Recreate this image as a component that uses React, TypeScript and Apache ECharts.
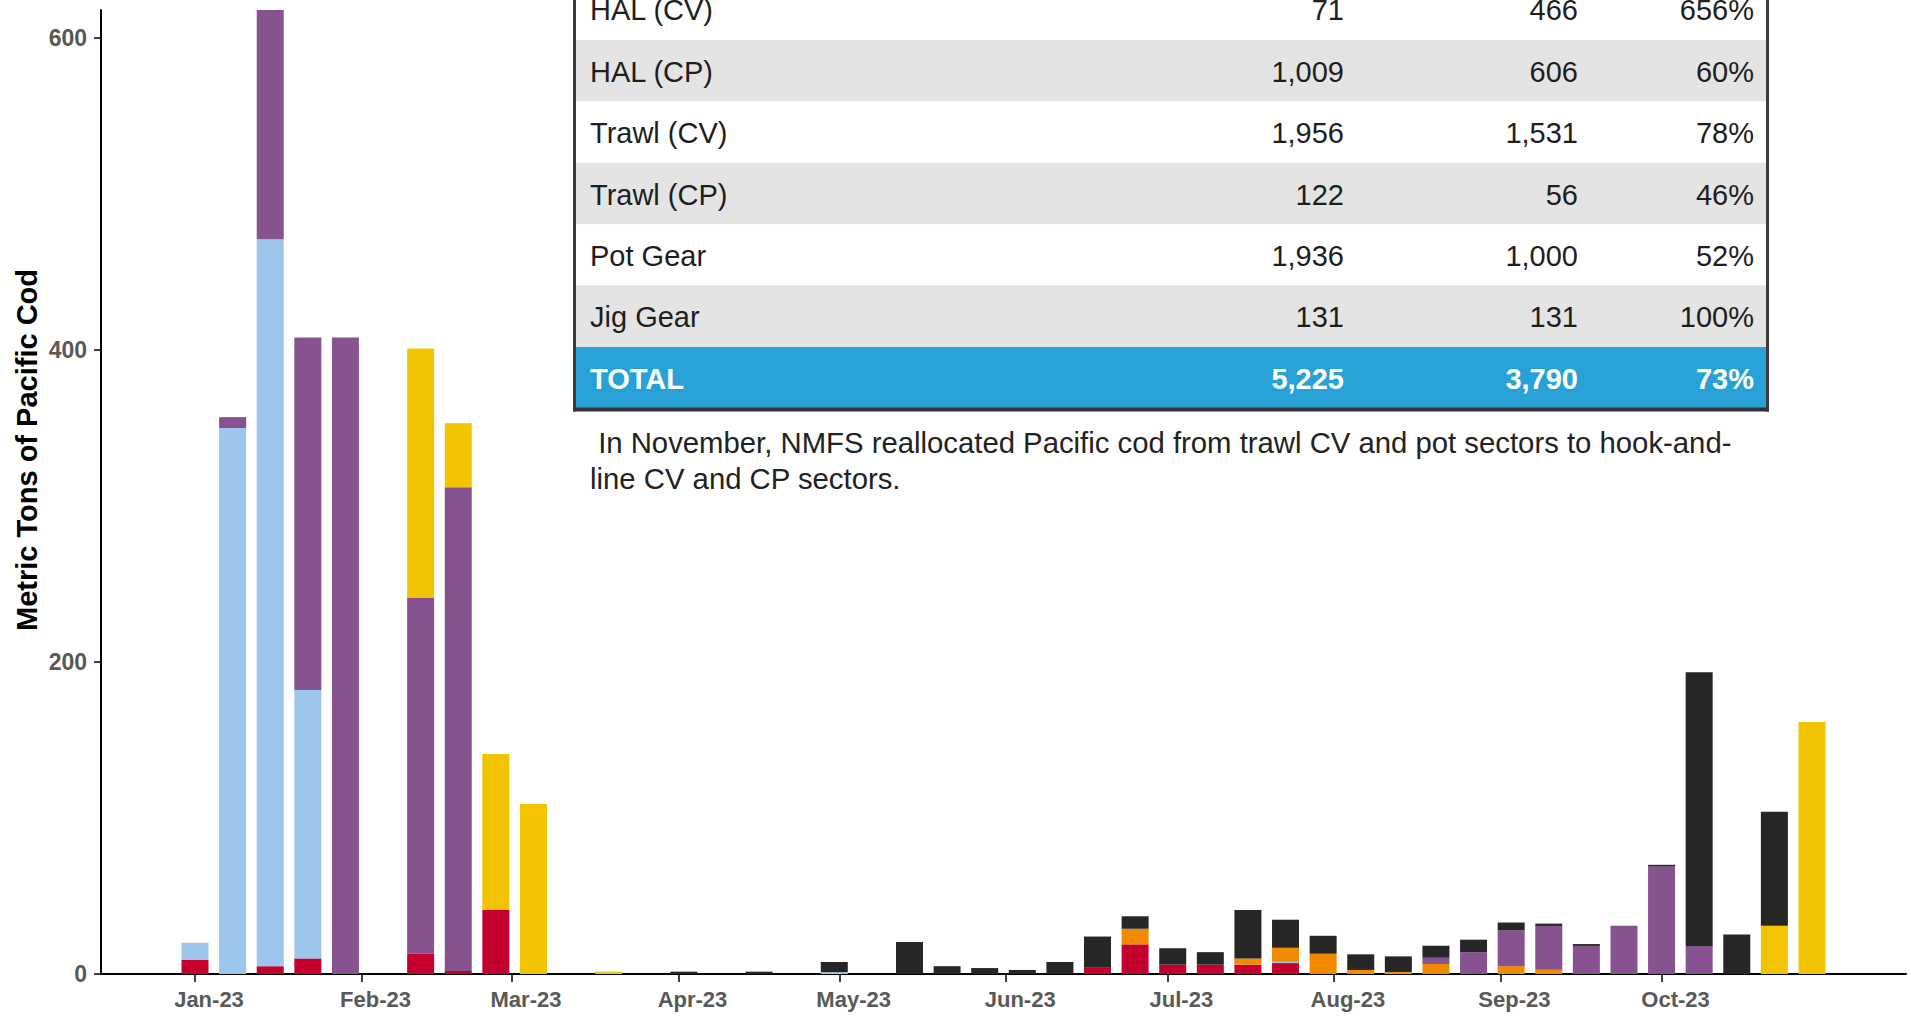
import React, { useEffect, useRef } from "react";
import * as echarts from "echarts";

// Week start dates (Sundays) for each weekly bar
const weekStarts = [
  "2023-01-01", "2023-01-08", "2023-01-15", "2023-01-22", "2023-01-29",
  "2023-02-05", "2023-02-12", "2023-02-19", "2023-02-26",
  "2023-03-05", "2023-03-12", "2023-03-19", "2023-03-26",
  "2023-04-02", "2023-04-09", "2023-04-16", "2023-04-23", "2023-04-30",
  "2023-05-07", "2023-05-14", "2023-05-21", "2023-05-28",
  "2023-06-04", "2023-06-11", "2023-06-18", "2023-06-25",
  "2023-07-02", "2023-07-09", "2023-07-16", "2023-07-23", "2023-07-30",
  "2023-08-06", "2023-08-13", "2023-08-20", "2023-08-27",
  "2023-09-03", "2023-09-10", "2023-09-17", "2023-09-24",
  "2023-10-01", "2023-10-08", "2023-10-15", "2023-10-22", "2023-10-29",
];

// Weekly catch (metric tons) by sector
const jigGear = [
  9, 0, 5, 10, 0, 0, 13, 2, 41, 0,
  0, 0, 0, 0, 0, 0, 0, 0, 0, 0,
  0, 0, 0, 0, 4, 19, 6, 6, 6, 7,
  0, 0, 0, 0, 0, 0, 0, 0, 0, 0,
  0, 0, 0, 0,
];
const potGear = [
  11, 350, 466, 172, 0, 0, 0, 0, 0, 0,
  0, 0, 0, 0, 0, 0, 0, 1.2, 0, 0,
  0, 0, 0, 0, 0, 0, 0, 0, 0, 0.8,
  0, 0, 0, 0, 0, 0, 0, 0, 0, 0,
  0, 0, 0, 0,
];
const trawlCP = [
  0, 0, 0, 0, 0, 0, 0, 0, 0, 0,
  0, 0, 0, 0, 0, 0, 0, 0, 0, 0,
  0, 0, 0, 0, 0, 10, 0, 0, 4, 9,
  13, 2.6, 1.3, 6.4, 0, 5, 2.8, 0, 0, 0,
  0, 0, 0, 0,
];
const trawlCV = [
  0, 7, 148, 226, 408, 0, 228, 310, 0, 0,
  0, 0, 0, 0, 0, 0, 0, 0, 0, 0,
  0, 0, 0, 0, 0, 0, 0, 0, 0, 0,
  0, 0, 0, 4, 14, 23, 28, 18, 31, 69,
  18, 0, 0, 0,
];
const halCP = [
  0, 0, 0, 0, 0, 0, 160, 41, 100, 109,
  0, 1.5, 0, 0, 0, 0, 0, 0, 0, 0,
  0, 0, 0, 0, 0, 0, 0, 0, 0, 0,
  0, 0, 0, 0, 0, 0, 0, 0, 0, 0,
  0, 0, 31, 161.5,
];
const halCV = [
  0, 0, 0, 0, 0, 0, 0, 0, 0, 0,
  0, 0, 0, 1.5, 0, 1.5, 0, 6.5, 0, 20.5,
  5, 3.8, 2.6, 7.7, 20, 8, 10.5, 8, 31, 18,
  11.5, 10, 10, 7.7, 8, 5, 1.5, 1.2, 0, 1,
  175.5, 25.4, 73, 0,
];

// Axis: daily categories spanning the plotted period, month ticks/labels
const axisStart = "2022-12-15";
const axisEnd = "2023-11-15";
const monthStarts = [
  "2023-01-01", "2023-02-01", "2023-03-01", "2023-04-01", "2023-05-01",
  "2023-06-01", "2023-07-01", "2023-08-01", "2023-09-01", "2023-10-01",
];
const monthLabels = [
  "Jan-23", "Feb-23", "Mar-23", "Apr-23", "May-23",
  "Jun-23", "Jul-23", "Aug-23", "Sep-23", "Oct-23",
];
const yTicks = [0, 200, 400, 600];

// Table
const tableSectors = ["HAL (CV)", "HAL (CP)", "Trawl (CV)", "Trawl (CP)", "Pot Gear", "Jig Gear", "TOTAL"];
const tableAllocation = ["71", "1,009", "1,956", "122", "1,936", "131", "5,225"];
const tableCatch = ["466", "606", "1,531", "56", "1,000", "131", "3,790"];
const tablePercent = ["656%", "60%", "78%", "46%", "52%", "100%", "73%"];
const noteLines = [
  " In November, NMFS reallocated Pacific cod from trawl CV and pot sectors to hook-and-",
  "line CV and CP sectors.",
];

const FONT = "'Liberation Sans', Arial, Helvetica, sans-serif";
const DAY = 86400000;

const toUTC = (s: string) => {
  const [y, m, d] = s.split("-").map(Number);
  return Date.UTC(y, m - 1, d);
};
const fmt = (t: number) => new Date(t).toISOString().slice(0, 10);

export default function App() {
  const ref = useRef<HTMLDivElement>(null);

  useEffect(() => {
    if (!ref.current) return;
    const chart = echarts.init(ref.current, undefined, { renderer: "svg" });

    // daily categories
    const t0 = toUTC(axisStart);
    const nDays = Math.round((toUTC(axisEnd) - t0) / DAY) + 1;
    const days: string[] = [];
    for (let i = 0; i < nDays; i++) days.push(fmt(t0 + i * DAY));
    const weekIndex: Record<string, number> = {};
    weekStarts.forEach((w, i) => (weekIndex[w] = i));
    const monthSet = new Set(monthStarts);

    const mk = (arr: number[]) =>
      days.map((d) => {
        const wi = weekIndex[d];
        if (wi === undefined) return null;
        return arr[wi] ? arr[wi] : null;
      });

    const seriesDefs = [
      { name: "Jig Gear", data: jigGear, color: "#C4002F" },
      { name: "Pot Gear", data: potGear, color: "#9DC6EC" },
      { name: "Trawl (CP)", data: trawlCP, color: "#F28A00" },
      { name: "Trawl (CV)", data: trawlCV, color: "#865390" },
      { name: "HAL (CP)", data: halCP, color: "#F2C300" },
      { name: "HAL (CV)", data: halCV, color: "#262626" },
    ];

    // Table graphics
    const rowH = 61.4;
    const tableTop = 40 - rowH;
    const tableLeft = 575;
    const tableRight = 1767;
    const graphics: any[] = [];
    tableSectors.forEach((name, i) => {
      const top = tableTop + i * rowH;
      const isTotal = i === tableSectors.length - 1;
      const fill = isTotal ? "#27A1D6" : i % 2 === 1 ? "#E4E4E4" : "#FFFFFF";
      graphics.push({
        type: "rect",
        shape: { x: tableLeft, y: top, width: tableRight - tableLeft, height: rowH },
        style: { fill },
        z: 10,
      });
      const txtFill = isTotal ? "#FFFFFF" : "#1E1E1E";
      const weight = isTotal ? "bold" : "normal";
      const cy = top + rowH / 2 + 1;
      const cols = [
        { text: name, x: 590, align: "left" },
        { text: tableAllocation[i], x: 1344, align: "right" },
        { text: tableCatch[i], x: 1578, align: "right" },
        { text: tablePercent[i], x: 1754, align: "right" },
      ];
      cols.forEach((c) => {
        graphics.push({
          type: "text",
          x: c.x,
          y: cy,
          z: 11,
          style: {
            text: c.text,
            fill: txtFill,
            fontSize: 29,
            fontWeight: weight,
            fontFamily: FONT,
            align: c.align,
            verticalAlign: "middle",
          },
        });
      });
    });
    const tableBottom = tableTop + tableSectors.length * rowH;
    graphics.push(
      { type: "rect", z: 12, shape: { x: tableLeft - 2, y: 0, width: 3, height: tableBottom + 3 }, style: { fill: "#3C3C3C" } },
      { type: "rect", z: 12, shape: { x: tableRight - 1, y: 0, width: 3, height: tableBottom + 3 }, style: { fill: "#3C3C3C" } },
      { type: "rect", z: 12, shape: { x: tableLeft - 2, y: tableBottom - 1, width: tableRight - tableLeft + 4, height: 4 }, style: { fill: "#333333" } }
    );
    noteLines.forEach((line, i) => {
      graphics.push({
        type: "text",
        x: 590,
        y: 442 + i * 36,
        z: 11,
        style: {
          text: line,
          fill: "#222222",
          fontSize: 29.3,
          fontFamily: FONT,
          align: "left",
          verticalAlign: "middle",
        },
      });
    });
    graphics.push({
      type: "text",
      x: 27,
      y: 450,
      rotation: Math.PI / 2,
      z: 11,
      style: {
        text: "Metric Tons of Pacific Cod",
        fill: "#000000",
        fontSize: 29,
        fontWeight: "bold",
        fontFamily: FONT,
        align: "center",
        verticalAlign: "middle",
      },
    });

    chart.setOption({
      animation: false,
      backgroundColor: "#FFFFFF",
      grid: { left: 101, right: 5, top: 10, bottom: 42, containLabel: false },
      xAxis: {
        type: "category",
        data: days,
        boundaryGap: true,
        axisLine: { show: true, lineStyle: { color: "#000000", width: 2 } },
        axisTick: {
          show: true,
          alignWithLabel: true,
          interval: (_i: number, v: string) => monthSet.has(v),
          length: 8,
          inside: false,
          lineStyle: { color: "#000000", width: 1.5 },
        },
        axisLabel: {
          show: true,
          interval: (_i: number, v: string) => monthSet.has(v),
          formatter: (v: string) => {
            const idx = monthStarts.indexOf(v);
            return idx >= 0 ? monthLabels[idx] : "";
          },
          fontSize: 22,
          fontWeight: "bold",
          fontFamily: FONT,
          color: "#595959",
          margin: 14,
          padding: [0, 0, 0, 28],
          hideOverlap: false,
        },
        splitLine: { show: false },
      },
      yAxis: {
        type: "value",
        min: 0,
        max: 618,
        axisLine: { show: true, lineStyle: { color: "#000000", width: 2 } },
        axisTick: { show: true, customValues: yTicks, length: 7, lineStyle: { color: "#000000", width: 1.5 } },
        axisLabel: {
          customValues: yTicks,
          fontSize: 23,
          fontWeight: "bold",
          fontFamily: FONT,
          color: "#595959",
          margin: 14,
        },
        splitLine: { show: false },
      },
      series: seriesDefs.map((s) => ({
        name: s.name,
        type: "bar",
        stack: "total",
        barWidth: 27,
        data: mk(s.data),
        itemStyle: { color: s.color },
        emphasis: { disabled: true },
      })),
      graphic: { elements: graphics },
    });

    return () => chart.dispose();
  }, []);

  return (
    <div
      ref={ref}
      style={{ position: "fixed", left: 0, top: 0, width: "1911px", height: "1016px", background: "#fff" }}
    />
  );
}
